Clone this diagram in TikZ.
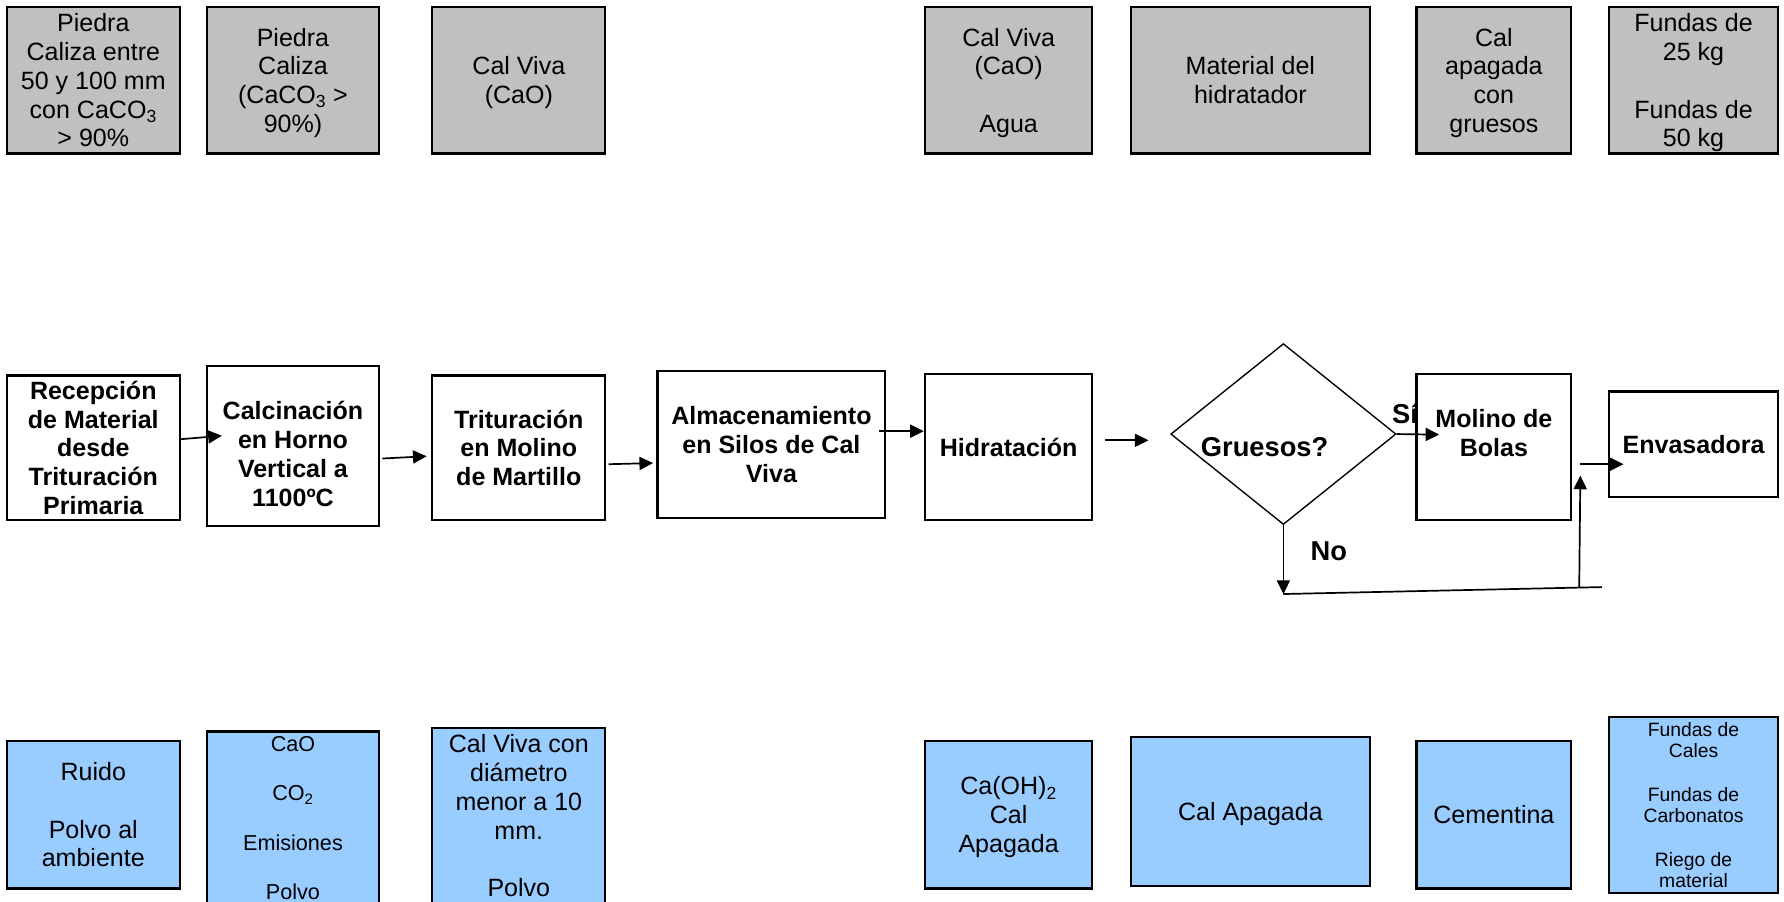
\documentclass[tikz,border=0pt]{standalone}
\usepackage{fontspec}
\setmainfont{Liberation Sans}
\usetikzlibrary{arrows.meta,shapes.geometric,calc}
\definecolor{grayfill}{HTML}{C0C0C0}
\definecolor{bluefill}{HTML}{99CCFF}
\newcommand{\fsReg}{\fontsize{22}{25.3}\selectfont}
\newcommand{\fsBold}{\fontsize{22}{25.3}\selectfont\bfseries}
\newcommand{\fsBig}{\fontsize{24}{27.6}\selectfont\bfseries}
\newcommand{\fsMid}{\fontsize{19}{21.7}\selectfont}
\newcommand{\fsSmall}{\fontsize{17}{19}\selectfont}
\begin{document}
\begin{tikzpicture}[x=1pt,y=-1pt,
  basebox/.style={draw=black, line width=2pt, align=center, inner sep=0pt, text depth=0pt},
  gbox/.style={basebox, fill=grayfill, font=\fsReg},
  bbox/.style={basebox, fill=bluefill, font=\fsReg},
  pbox/.style={basebox, fill=white, font=\fsBold},
  txt/.style={align=center, inner sep=0pt, text depth=0pt, font=\fsBold},
  lbl/.style={align=center, inner sep=0pt, text depth=0pt, font=\fsBig},
  dec/.style={draw=black, line width=1.2pt, fill=white, shape=diamond, inner sep=0pt},
  arr/.style={line width=1.5pt, -{Triangle[length=12pt,width=11.5pt]}},
  conn/.style={line width=1.5pt}]
\useasboundingbox (0,0) rectangle (1568,792);
\clip (0,0) rectangle (1568,792);
\fill[white] (0,0) rectangle (1568,792);

% ---------- top row: inputs ----------
\node[gbox, minimum width=152, minimum height=129] (b1) at (82,70.5)
  {Piedra\\Caliza entre\\50 y 100 mm\\con CaCO\textsubscript{3}\\> 90\%};
\node[gbox, minimum width=151, minimum height=129] (b2) at (257.5,70.5)
  {Piedra\\Caliza\\(CaCO\textsubscript{3} >\\90\%)};
\node[gbox, minimum width=152, minimum height=129] (b3) at (456,70.5)
  {Cal Viva\\(CaO)};
\node[gbox, minimum width=147, minimum height=129] (b4) at (886.5,70.5)
  {Cal Viva\\(CaO)\\\mbox{}\\Agua};
\node[gbox, minimum width=210, minimum height=129] (b5) at (1099,70.5)
  {Material del\\hidratador};
\node[gbox, minimum width=136, minimum height=129] (b6) at (1313,70.5)
  {Cal\\apagada\\con\\gruesos};
\node[gbox, minimum width=149, minimum height=129] (b7) at (1488.5,70.5)
  {Fundas de\\25 kg\\\mbox{}\\Fundas de\\50 kg};

% ---------- middle row: process ----------
\node[pbox, minimum width=152, minimum height=127] (r1) at (82,393.5)
  {Recepción\\de Material\\desde\\Trituración\\Primaria};
\node[pbox, minimum width=151, minimum height=140] (r2) at (257.5,392) {};
\node[txt] (r2t) at (257.5,399) {Calcinación\\en Horno\\Vertical a\\1100ºC};
\node[pbox, minimum width=152, minimum height=127] (r3) at (456,393.5)
  {Trituración\\en Molino\\de Martillo};
\node[pbox, minimum width=200, minimum height=129] (r4) at (678,390.5)
  {Almacenamiento\\en Silos de Cal\\Viva};
\node[pbox, minimum width=147, minimum height=128] (r5) at (886.5,393)
  {Hidratación};
\node[dec, minimum width=198, minimum height=159] (dia) at (1128,381.5) {};
\node[lbl] (diat) at (1111.5,393) {Gruesos?};
\node[lbl] (si) at (1235,363) {Sí};
\node[pbox, minimum width=136, minimum height=128] (r6) at (1313,393) {};
\node[txt] (r6t) at (1313,380.5) {Molino de\\Bolas};
\node[pbox, minimum width=149, minimum height=93] (r7) at (1488.5,390.5)
  {Envasadora};
\node[lbl] (no) at (1168,484) {No};

% ---------- connectors ----------
\draw[arr] ($(r1.east)+(0,-7.5)$) -- ($(r2.west)+(14,-9)$);
\draw[arr] ($(r2.east)+(2,11)$) -- ($(r3.west)+(-4,7.5)$);
\draw[arr] ($(r3.east)+(2,14.5)$) -- ($(r4.west)+(-3,16.5)$);
\draw[arr] ($(r4.east)+(-6,-11.5)$) -- ($(r5.west)+(0,-14)$);
\draw[arr] ($(r5.east)+(10,-6)$) -- ($(dia.west)+(-19,5.5)$);
\draw[arr] (dia.east) -- ($(r6.west)+(21,-11)$);
\coordinate (lb) at ($(dia.south)+(0,60.5)$);
\coordinate (rb) at (1408,516);
\coordinate (ub) at (1388,516.4);
\draw[arr] (dia.south) -- (lb);
\draw[conn] (lb) -- (rb);
\draw[arr] (ub) -- ($(r6.east)+(7,25)$);
\draw[arr] ($(r6.east)+(7,15)$) -- ($(r7.west)+(14,17.5)$);

% ---------- bottom row: outputs ----------
\node[bbox, minimum width=152, minimum height=130] (e1) at (82,716)
  {Ruido\\\mbox{}\\Polvo al\\ambiente};
\node[bbox, minimum width=151, minimum height=152, font=\fsMid] (e2) at (257.5,719)
  {CaO\\\mbox{}\\CO\textsubscript{2}\\\mbox{}\\Emisiones\\\mbox{}\\Polvo};
\node[bbox, minimum width=152, minimum height=154] (e3) at (456,717)
  {Cal Viva con\\diámetro\\menor a 10\\mm.\\\mbox{}\\Polvo};
\node[bbox, minimum width=147, minimum height=130] (e4) at (886.5,716)
  {Ca(OH)\textsubscript{2}\\Cal\\Apagada};
\node[bbox, minimum width=210, minimum height=131] (e5) at (1099,713.5)
  {Cal Apagada};
\node[bbox, minimum width=136, minimum height=130] (e6) at (1313,716)
  {Cementina};
\node[bbox, minimum width=149, minimum height=155, font=\fsSmall] (e7) at (1488.5,707.5)
  {Fundas de\\Cales\\\mbox{}\\Fundas de\\Carbonatos\\\mbox{}\\Riego de\\material};
\end{tikzpicture}
\end{document}
